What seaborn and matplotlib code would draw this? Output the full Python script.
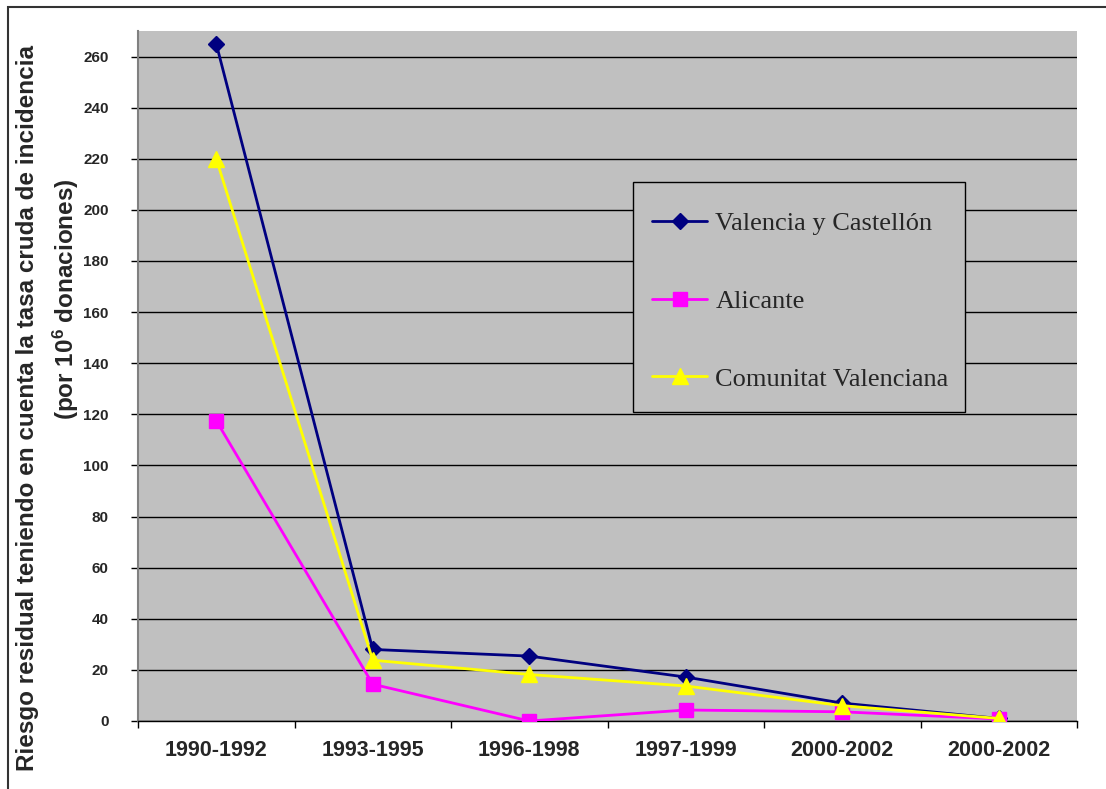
import numpy as np
import matplotlib
matplotlib.use("Agg")
import matplotlib.pyplot as plt
from matplotlib.patches import Rectangle
import seaborn as sns

# Periods (the last period label appears twice in the source series)
periodos = ["1990-1992", "1993-1995", "1996-1998", "1997-1999", "2000-2002", "2000-2002"]

valencia_castellon = [265, 28, 25.4, 17.2, 7, 1]
alicante = [117.5, 14.4, 0, 4.3, 3.6, 0.8]
comunitat_valenciana = [220, 23.8, 18.2, 13.7, 6, 1]

series_names = ["Valencia y Castellón", "Alicante", "Comunitat Valenciana"]
y_ticks = list(range(0, 261, 20))

sns.set_theme(style="white")
plt.rcParams["font.family"] = ["Liberation Sans", "DejaVu Sans"]
plt.rcParams["mathtext.fontset"] = "custom"
plt.rcParams["mathtext.rm"] = "Liberation Sans:bold"
plt.rcParams["mathtext.it"] = "Liberation Sans:bold"
plt.rcParams["mathtext.bf"] = "Liberation Sans:bold"

W, H = 1106, 789
fig = plt.figure(figsize=(W / 100, H / 100), dpi=100)
fig.patch.set_facecolor("white")

left, right, top, bottom = 138, 1077, 31, 721
ax = fig.add_axes([left / W, 1 - bottom / H, (right - left) / W, (bottom - top) / H])
ax.set_facecolor("#C0C0C0")

x = np.arange(len(periodos))
styles = [
    (valencia_castellon, "#000080", "D", 8.2),
    (alicante, "#FF00FF", "s", 10.5),
    (comunitat_valenciana, "#FFFF00", "^", 11.5),
]
for name, (vals, color, marker, ms) in zip(series_names, styles):
    sns.lineplot(x=x, y=vals, color=color, marker=marker, markersize=ms,
                 markeredgecolor=color, markerfacecolor=color, markeredgewidth=1,
                 linewidth=2.0, label=name, ax=ax, zorder=3)

ax.set_xlim(-0.5, len(periodos) - 0.5)
ax.set_ylim(0, 270)

# Horizontal gridlines
ax.set_yticks(y_ticks)
ax.yaxis.grid(True, color="black", linewidth=1.0)
ax.xaxis.grid(False)
ax.set_axisbelow(True)

ax.set_yticklabels([str(v) for v in y_ticks], fontsize=11, fontweight="bold")
ax.tick_params(axis="y", which="major", direction="out", length=5, width=1,
               color="black", pad=16, left=True)

ax.set_xticks(x)
ax.set_xticklabels(periodos, fontsize=15.5, fontweight="bold")
ax.set_xticks(np.arange(-0.5, len(periodos), 1.0), minor=True)
ax.tick_params(axis="x", which="major", length=0, pad=14)
ax.tick_params(axis="x", which="minor", direction="out", length=5, width=1,
               color="black", bottom=True)

for side in ["top", "right"]:
    ax.spines[side].set_visible(False)
ax.spines["left"].set_color("#808080")
ax.spines["left"].set_linewidth(1.5)
ax.spines["bottom"].set_color("black")
ax.spines["bottom"].set_linewidth(1.0)

ax.set_xlabel("")
ax.set_ylabel("")

# Legend: framed box drawn separately, entries placed inside it
handles, labels = ax.get_legend_handles_labels()
if ax.get_legend() is not None:
    ax.get_legend().remove()
fig.patches.append(Rectangle((633 / W, 1 - 412 / H), (965 - 633) / W, (412 - 182) / H,
                             transform=fig.transFigure, facecolor="#C0C0C0",
                             edgecolor="black", linewidth=1.0, zorder=4))
leg = fig.legend(handles, labels, loc="upper left",
                 bbox_to_anchor=(633 / W, 1 - 193 / H),
                 bbox_transform=fig.transFigure,
                 prop={"family": "Liberation Serif", "size": 19},
                 frameon=False, borderpad=0.72,
                 labelspacing=2.05, handlelength=2.1, handletextpad=0.3,
                 borderaxespad=0)
leg.set_zorder(5)

# Y-axis title (two centred lines)
fig.text(28 / W, 1 - 408 / H,
         "Riesgo residual teniendo en cuenta la tasa cruda de incidencia",
         rotation=90, ha="center", va="center", fontsize=17.5, fontweight="bold")
fig.text(66 / W, 1 - 299 / H, "(por 10$^{6}$ donaciones)",
         rotation=90, ha="center", va="center", fontsize=17.5, fontweight="bold")

# Outer chart border
fig.patches.append(Rectangle((8 / W, -0.1), 2.0, (H - 7) / H + 0.1,
                             transform=fig.transFigure, fill=False,
                             edgecolor="#333333", linewidth=1.5, clip_on=False))

fig.savefig("out.png", dpi=100)
